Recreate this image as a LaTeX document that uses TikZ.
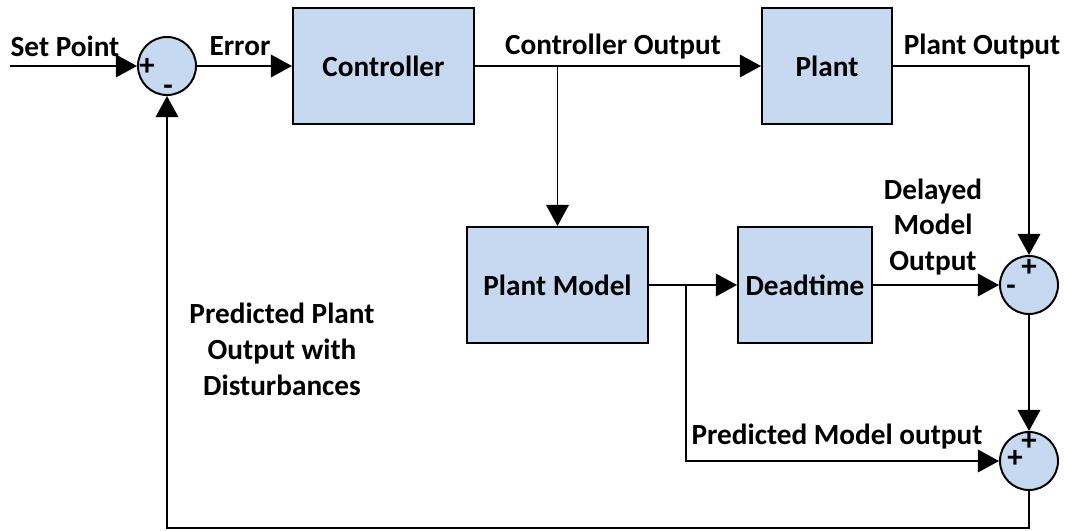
\documentclass[tikz,border=0pt]{standalone}
\usepackage{fontspec}
\setmainfont{Carlito}
\usetikzlibrary{arrows.meta}
\definecolor{blockfill}{RGB}{198,217,241}

\begin{document}
\begin{tikzpicture}[x=0.025cm, y=-0.025cm]
    \tikzset{
        lbl/.style={font=\bfseries\fontsize{20.8}{25.5}\selectfont, inner sep=0pt, align=center},
        block/.style={lbl, draw, line width=1.4pt, fill=blockfill, minimum height=2.9cm},
        summer/.style={draw, circle, line width=1.4pt, fill=blockfill, minimum size=1.45cm, inner sep=0pt},
        sgn/.style={font=\bfseries\fontsize{22}{24}\selectfont, inner sep=0pt},
        sig/.style={line width=1.4pt, -{Triangle[length=15pt, width=16pt]}}
    }
    \useasboundingbox (0,0) rectangle (1067,531);

    % blocks
    \node[block, minimum width=4.525cm] (ctrl) at (383.5,66) {Controller};
    \node[block, minimum width=3.25cm] (plant) at (827,66) {Plant};
    \node[block, minimum width=4.525cm] (model) at (557.5,285) {Plant Model};
    \node[block, minimum width=3.35cm] (dead) at (805,285) {Deadtime};

    % summing junctions
    \node[summer] (sum1) at (167,66) {};
    \node[summer] (sum2) at (1029,285) {};
    \node[summer] (sum3) at (1029,461) {};
    \node[sgn] at (147,67) {+};
    \node[sgn] at (168,90) {-};
    \node[sgn] at (1029,268) {+};
    \node[sgn] at (1011,290) {-};
    \node[sgn] at (1029,442) {+};
    \node[sgn] at (1015,459) {+};

    \coordinate (sp) at (10,66);
    \coordinate (split) at (686,285);
    \coordinate (fb) at (1029,528);

    % connections
    \draw[sig] (sp) -- (sum1.west);
    \draw[sig] (sum1.east) -- (ctrl.west);
    \draw[sig] (ctrl.east) -- (plant.west);
    \draw[sig] (ctrl.east -| model.north) -- (model.north);
    \draw[sig] (plant.east) -| (sum2.north);
    \draw[sig] (model.east) -- (dead.west);
    \draw[sig] (dead.east) -- (sum2.west);
    \draw[sig] (sum2.south) -- (sum3.north);
    \draw[sig] (split) |- (sum3.west);
    \draw[sig] (sum3.south) -- (fb) -| (sum1.south);

    % labels
    \node[lbl] (lsp) at (65,46) {Set Point};
    \node[lbl] (lerr) at (240,46) {Error};
    \node[lbl] (lco) at (613,47) {Controller Output};
    \node[lbl] (lpo) at (982,47) {Plant Output};
    \node[lbl] (ldmo) at (933,227) {Delayed\\Model\\Output};
    \node[lbl] (lpmo) at (837,437) {Predicted Model output};
    \node[lbl] (lppo) at (282,349) {Predicted Plant\\Output with\\Disturbances};
\end{tikzpicture}
\end{document}
